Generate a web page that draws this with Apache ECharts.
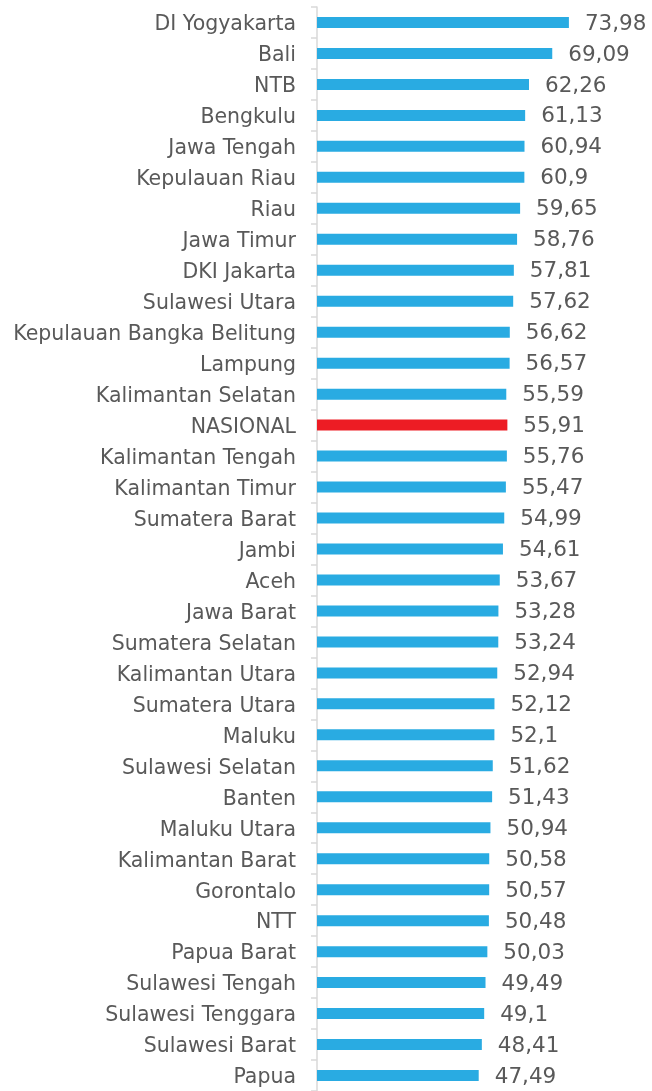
<!DOCTYPE html>
<html>
<head>
<meta charset="utf-8">
<script src="https://cdn.jsdelivr.net/npm/echarts@6/dist/echarts.min.js"></script>
<style>
  html, body { margin: 0; padding: 0; background: #ffffff; }
  #chart { width: 652px; height: 1091px; }
</style>
</head>
<body>
<div id="chart"></div>
<script>
// Provinces, top to bottom
const provinces = [
  'DI Yogyakarta', 'Bali', 'NTB', 'Bengkulu', 'Jawa Tengah', 'Kepulauan Riau',
  'Riau', 'Jawa Timur', 'DKI Jakarta', 'Sulawesi Utara', 'Kepulauan Bangka Belitung',
  'Lampung', 'Kalimantan Selatan', 'NASIONAL', 'Kalimantan Tengah', 'Kalimantan Timur',
  'Sumatera Barat', 'Jambi', 'Aceh', 'Jawa Barat', 'Sumatera Selatan',
  'Kalimantan Utara', 'Sumatera Utara', 'Maluku', 'Sulawesi Selatan', 'Banten',
  'Maluku Utara', 'Kalimantan Barat', 'Gorontalo', 'NTT', 'Papua Barat',
  'Sulawesi Tengah', 'Sulawesi Tenggara', 'Sulawesi Barat', 'Papua'
];

// Index values per province
const values = [
  73.98, 69.09, 62.26, 61.13, 60.94, 60.9,
  59.65, 58.76, 57.81, 57.62, 56.62,
  56.57, 55.59, 55.91, 55.76, 55.47,
  54.99, 54.61, 53.67, 53.28, 53.24,
  52.94, 52.12, 52.1, 51.62, 51.43,
  50.94, 50.58, 50.57, 50.48, 50.03,
  49.49, 49.1, 48.41, 47.49
];

const highlighted = 'NASIONAL';

const FONT = '"DejaVu Sans", "Century Gothic", sans-serif';
const TEXT = '#595959';
const BLUE = '#29abe2';
const RED = '#ed1c24';

const chart = echarts.init(document.getElementById('chart'), null, { renderer: 'canvas' });

chart.setOption({
  animation: false,
  backgroundColor: '#ffffff',
  grid: { left: 317, top: 7, width: 272.4, height: 1088, containLabel: false },
  xAxis: {
    type: 'value',
    min: 0,
    max: 80,
    show: false
  },
  yAxis: {
    type: 'category',
    data: provinces,
    inverse: true,
    axisLine: { show: true, lineStyle: { color: '#d9d9d9', width: 1.5 } },
    axisTick: { show: true, length: 6, lineStyle: { color: '#d9d9d9', width: 1.5 } },
    axisLabel: {
      margin: 21,
      formatter: (v) => '{name|' + v + '}',
      rich: {
        name: {
          color: TEXT,
          fontFamily: FONT,
          fontSize: 20.5,
          padding: [5, 0, 0, 0]
        }
      }
    },
    splitLine: { show: false }
  },
  series: [{
    type: 'bar',
    data: values,
    barWidth: 11,
    itemStyle: {
      color: (p) => (p.name === highlighted ? RED : BLUE)
    },
    label: {
      show: true,
      position: 'right',
      distance: 16,
      offset: [0, 1.5],
      color: TEXT,
      fontFamily: FONT,
      fontSize: 21.5,
      formatter: (p) => String(p.value).replace('.', ',')
    }
  }]
});
</script>
</body>
</html>
